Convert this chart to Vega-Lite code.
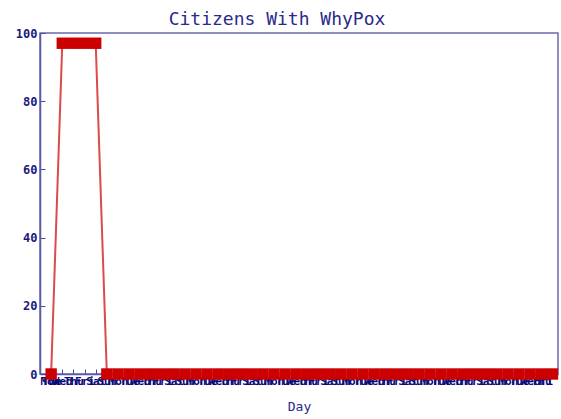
{
  "$schema": "https://vega.github.io/schema/vega-lite/v6.json",
  "width": 518,
  "height": 341,
  "autosize": "none",
  "padding": {"left": 40, "top": 33, "right": 3, "bottom": 45},
  "background": "white",
  "config": {
    "view": {"stroke": "#6a6ab0", "strokeWidth": 1.5},
    "font": "DejaVu Sans Mono"
  },
  "title": {
    "text": "Citizens With WhyPox",
    "font": "DejaVu Sans Mono",
    "fontSize": 18,
    "fontWeight": "normal",
    "color": "#2a2a8a",
    "anchor": "middle",
    "dx": -22,
    "offset": -2
  },
  "data": {
    "values": [
      {"day": 1, "citizens": 0},
      {"day": 2, "citizens": 97},
      {"day": 3, "citizens": 97},
      {"day": 4, "citizens": 97},
      {"day": 5, "citizens": 97},
      {"day": 6, "citizens": 0},
      {"day": 7, "citizens": 0},
      {"day": 8, "citizens": 0},
      {"day": 9, "citizens": 0},
      {"day": 10, "citizens": 0},
      {"day": 11, "citizens": 0},
      {"day": 12, "citizens": 0},
      {"day": 13, "citizens": 0},
      {"day": 14, "citizens": 0},
      {"day": 15, "citizens": 0},
      {"day": 16, "citizens": 0},
      {"day": 17, "citizens": 0},
      {"day": 18, "citizens": 0},
      {"day": 19, "citizens": 0},
      {"day": 20, "citizens": 0},
      {"day": 21, "citizens": 0},
      {"day": 22, "citizens": 0},
      {"day": 23, "citizens": 0},
      {"day": 24, "citizens": 0},
      {"day": 25, "citizens": 0},
      {"day": 26, "citizens": 0},
      {"day": 27, "citizens": 0},
      {"day": 28, "citizens": 0},
      {"day": 29, "citizens": 0},
      {"day": 30, "citizens": 0},
      {"day": 31, "citizens": 0},
      {"day": 32, "citizens": 0},
      {"day": 33, "citizens": 0},
      {"day": 34, "citizens": 0},
      {"day": 35, "citizens": 0},
      {"day": 36, "citizens": 0},
      {"day": 37, "citizens": 0},
      {"day": 38, "citizens": 0},
      {"day": 39, "citizens": 0},
      {"day": 40, "citizens": 0},
      {"day": 41, "citizens": 0},
      {"day": 42, "citizens": 0},
      {"day": 43, "citizens": 0},
      {"day": 44, "citizens": 0},
      {"day": 45, "citizens": 0},
      {"day": 46, "citizens": 0}
    ]
  },
  "encoding": {
    "x": {
      "field": "day",
      "type": "quantitative",
      "scale": {"domain": [0, 46.5], "nice": false, "zero": false},
      "axis": {
        "title": "Day",
        "titleFont": "DejaVu Sans Mono",
        "titleFontSize": 13,
        "titleFontWeight": "normal",
        "titleColor": "#2a2a8a",
        "titlePadding": 14,
        "values": [0, 1, 2, 3, 4, 5, 6, 7, 8, 9, 10, 11, 12, 13, 14, 15, 16, 17, 18, 19, 20, 21, 22, 23, 24, 25, 26, 27, 28, 29, 30, 31, 32, 33, 34, 35, 36, 37, 38, 39, 40, 41, 42, 43, 44, 45, 46],
        "labelExpr": "['Mon','Tue','Wed','Thu','Fri','Sat','Sun'][datum.value % 7]",
        "labelOverlap": false,
        "labelFont": "DejaVu Sans Mono",
        "labelFontSize": 11,
        "labelFontWeight": "bold",
        "labelColor": "#0a0a78",
        "labelPadding": 6,
        "labelFlush": 7,
        "tickSize": -5,
        "tickColor": "#4a4a9a",
        "domainColor": "#5a5aa8",
        "domainWidth": 1.5,
        "grid": false
      }
    },
    "y": {
      "field": "citizens",
      "type": "quantitative",
      "scale": {"domain": [0, 100], "nice": false},
      "axis": {
        "title": null,
        "values": [0, 20, 40, 60, 80, 100],
        "labelFont": "DejaVu Sans Mono",
        "labelFontSize": 12,
        "labelFontWeight": "bold",
        "labelColor": "#1a1a80",
        "labelPadding": 8,
        "tickSize": -5,
        "tickColor": "#4a4a9a",
        "domainColor": "#5a5aa8",
        "domainWidth": 1.5,
        "grid": false
      }
    }
  },
  "layer": [
    {
      "mark": {"type": "line", "color": "#dd4a4a", "strokeWidth": 2}
    },
    {
      "mark": {"type": "point", "shape": "square", "filled": true, "size": 130, "color": "#cc0000", "opacity": 1}
    }
  ]
}
